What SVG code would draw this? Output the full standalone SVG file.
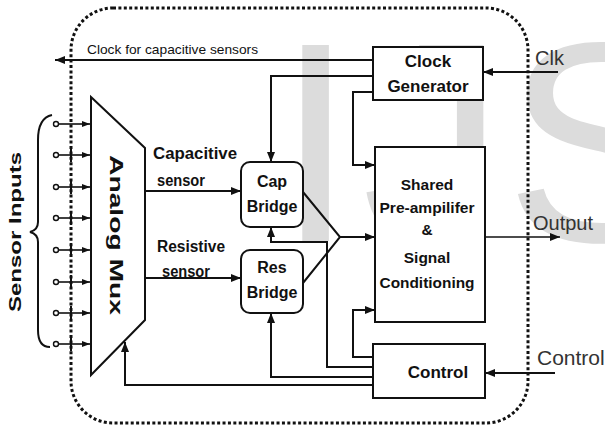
<svg xmlns="http://www.w3.org/2000/svg" width="605" height="429" viewBox="0 0 605 429">
<defs>
<style>
.ln{fill:none;stroke:#111;stroke-width:2}
.thin{fill:none;stroke:#111;stroke-width:1.6}
.box{fill:#fff;stroke:#111;stroke-width:2}
.boxt{fill:none;stroke:#111;stroke-width:2}
.lbl{font-family:"Liberation Sans",Arial,sans-serif;font-weight:bold;fill:#111;text-anchor:middle}
.sig{font-family:"Liberation Sans",Arial,sans-serif;font-weight:bold;fill:#111}
.ext{font-family:"Liberation Sans",Arial,sans-serif;fill:#333}
.wm{font-family:"Liberation Sans",Arial,sans-serif;fill:#dcdcdc;font-size:285px}
</style>
<marker id="ah" viewBox="0 0 10 8" refX="10" refY="4" markerWidth="10" markerHeight="8" markerUnits="userSpaceOnUse" orient="auto">
<path d="M0,0 L10,4 L0,8 z" fill="#111"/>
</marker>
<marker id="ahs" viewBox="0 0 8 6" refX="8" refY="3" markerWidth="8" markerHeight="6" markerUnits="userSpaceOnUse" orient="auto">
<path d="M0,0 L8,3 L0,6 z" fill="#111"/>
</marker>
</defs>
<rect width="605" height="429" fill="#fff"/>
<text class="wm" x="276 362 505" y="241">IJS</text>

<path d="M113,8 H486 A42,42 0 0 1 528,50 V381 A42,42 0 0 1 486,423 H113 A42,42 0 0 1 71,381 V50 A42,42 0 0 1 113,8 Z" fill="none" stroke="#111" stroke-width="3" stroke-dasharray="3 2.4"/>

<g id="connectors">
<path class="ln" d="M373,60 H55" marker-end="url(#ah)"/>
<path class="ln" d="M373,76 H271 V162" marker-end="url(#ah)"/>
<path class="ln" d="M373,92 H353 V165 H375" marker-end="url(#ah)"/>
<path class="ln" d="M558,72 H483" marker-end="url(#ah)"/>
<path class="ln" d="M145,191 H241" marker-end="url(#ah)"/>
<path class="ln" d="M145,278 H241" marker-end="url(#ah)"/>
<path class="ln" d="M303,192 L340,237 L303,283"/>
<path class="ln" d="M340,237 H375" marker-end="url(#ah)"/>
<path class="thin" d="M485,237 H560" marker-end="url(#ah)"/>
<path class="ln" d="M373,357 H353 V310 H375" marker-end="url(#ah)"/>
<path class="ln" d="M373,367 H327 V242 H271 V227" marker-end="url(#ah)"/>
<path class="ln" d="M373,377 H271 V313" marker-end="url(#ah)"/>
<path class="ln" d="M373,385 H125 V342" marker-end="url(#ah)"/>
<path class="ln" d="M555,373 H485" marker-end="url(#ah)"/>
</g>

<g id="sensor-inputs">
<path class="ln" d="M52,115 Q38,118 38,140 V222 Q38,230 30,232 Q38,234 38,242 V330 Q38,347 50,347"/>
<g class="thin">
<path d="M58.5,124 H90" marker-end="url(#ahs)"/>
<path d="M58.5,155 H90" marker-end="url(#ahs)"/>
<path d="M58.5,187 H90" marker-end="url(#ahs)"/>
<path d="M58.5,218 H90" marker-end="url(#ahs)"/>
<path d="M58.5,250 H90" marker-end="url(#ahs)"/>
<path d="M58.5,282 H90" marker-end="url(#ahs)"/>
<path d="M58.5,313 H90" marker-end="url(#ahs)"/>
<path d="M58.5,344 H90" marker-end="url(#ahs)"/>
</g>
<g fill="#fff" stroke="#111" stroke-width="1.4">
<circle cx="56" cy="124" r="2.5"/>
<circle cx="56" cy="155" r="2.5"/>
<circle cx="56" cy="187" r="2.5"/>
<circle cx="56" cy="218" r="2.5"/>
<circle cx="56" cy="250" r="2.5"/>
<circle cx="56" cy="282" r="2.5"/>
<circle cx="56" cy="313" r="2.5"/>
<circle cx="56" cy="344" r="2.5"/>
</g>
<path stroke="#111" stroke-width="2" d="M71,148 V162 M71,180 V194 M71,211 V225 M71,243 V257 M71,275 V289 M71,306 V320 M71,337 V351"/>
<text class="lbl" transform="translate(21,232) rotate(-90)" font-size="17" textLength="160" lengthAdjust="spacingAndGlyphs">Sensor Inputs</text>
</g>

<g id="analog-mux">
<path class="box" d="M91,97 L145,148 V320 L91,375 Z"/>
<text class="lbl" transform="translate(110,235) rotate(90)" font-size="19" textLength="160" lengthAdjust="spacingAndGlyphs">Analog Mux</text>
</g>

<g id="labels">
<text class="sig" x="87" y="54" font-size="13" textLength="171" lengthAdjust="spacingAndGlyphs" style="font-weight:normal;fill:#111">Clock for capacitive sensors</text>
<text class="sig" x="153" y="159" font-size="16" textLength="84" lengthAdjust="spacingAndGlyphs">Capacitive</text>
<text class="sig" x="157" y="186" font-size="16" textLength="48" lengthAdjust="spacingAndGlyphs">sensor</text>
<text class="sig" x="157" y="252" font-size="16" textLength="68" lengthAdjust="spacingAndGlyphs">Resistive</text>
<text class="sig" x="162" y="277" font-size="16" textLength="48" lengthAdjust="spacingAndGlyphs">sensor</text>
<text class="ext" x="535" y="65" font-size="20">Clk</text>
<text class="ext" x="533" y="230" font-size="20">Output</text>
<text class="ext" x="537" y="365" font-size="21">Control</text>
</g>

<g id="cap-bridge">
<rect class="box" x="241" y="162" width="62" height="65" rx="9"/>
<text class="lbl" x="272" y="187" font-size="16">Cap</text>
<text class="lbl" x="272" y="212" font-size="16">Bridge</text>
</g>

<g id="res-bridge">
<rect class="box" x="241" y="250" width="62" height="63" rx="9"/>
<text class="lbl" x="272" y="273" font-size="16">Res</text>
<text class="lbl" x="272" y="298" font-size="16">Bridge</text>
</g>

<g id="clock-generator">
<rect class="box" x="373" y="47" width="110" height="53"/>
<text class="lbl" x="428" y="67" font-size="17">Clock</text>
<text class="lbl" x="428" y="92" font-size="17">Generator</text>
</g>

<g id="shared-preamp">
<rect class="box" x="375" y="147" width="110" height="175"/>
<text class="lbl" x="427" y="190" font-size="15.5">Shared</text>
<text class="lbl" x="427" y="213" font-size="15.5" textLength="95" lengthAdjust="spacingAndGlyphs">Pre-ampilifer</text>
<text class="lbl" x="427" y="235" font-size="15.5">&amp;</text>
<text class="lbl" x="427" y="263" font-size="15.5">Signal</text>
<text class="lbl" x="427" y="288" font-size="15.5" textLength="95" lengthAdjust="spacingAndGlyphs">Conditioning</text>
</g>

<g id="control">
<rect class="box" x="373" y="344" width="112" height="54"/>
<text class="lbl" x="438" y="378" font-size="17">Control</text>
</g>
</svg>
